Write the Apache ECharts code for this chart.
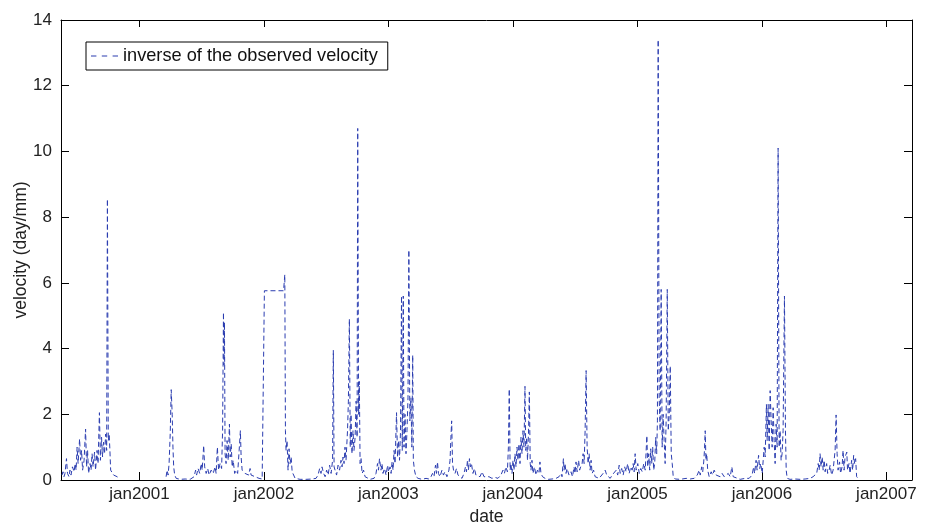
<!DOCTYPE html>
<html>
<head>
<meta charset="utf-8">
<script src="https://cdn.jsdelivr.net/npm/echarts@6/dist/echarts.min.js"></script>
<style>
html,body{margin:0;padding:0;background:#fff;}
#chart{width:931px;height:523px;}
</style>
</head>
<body>
<div id="chart"></div>
<script>
// x values are decimal years, y values are velocity (day/mm)
const obs2000 = [[2000.379,0.15],[2000.387,0.25],[2000.395,0.1],[2000.403,0.2],[2000.415,0.65],[2000.423,0.2],[2000.435,0.1],[2000.443,0.3],[2000.451,0.15],[2000.463,0.4],[2000.476,0.25],[2000.484,0.5],[2000.492,0.3],[2000.500,1.0],[2000.508,0.5],[2000.520,1.25],[2000.528,0.6],[2000.536,0.9],[2000.544,0.3],[2000.556,0.6],[2000.568,1.55],[2000.576,0.4],[2000.584,0.9],[2000.592,0.2],[2000.604,0.5],[2000.612,0.3],[2000.620,0.8],[2000.628,0.4],[2000.640,0.85],[2000.648,0.3],[2000.660,0.9],[2000.668,0.5],[2000.679,2.05],[2000.687,0.6],[2000.696,1.3],[2000.704,0.7],[2000.712,1.15],[2000.720,0.8],[2000.729,1.4],[2000.737,0.9],[2000.743,8.55],[2000.750,1.2],[2000.757,1.4],[2000.763,0.9],[2000.769,0.3],[2000.781,0.25],[2000.793,0.15],[2000.805,0.2],[2000.821,0.1],[2000.837,0.05],[2000.95,null]];
const obs2001 = [[2001.214,0.1],[2001.222,0.3],[2001.230,0.15],[2001.238,0.5],[2001.247,1.4],[2001.255,2.75],[2001.263,2.0],[2001.269,1.0],[2001.275,0.4],[2001.283,0.15],[2001.295,0.05],[2001.327,0.02],[2001.367,0.03],[2001.407,0.02],[2001.439,0.1],[2001.451,0.3],[2001.459,0.15],[2001.471,0.35],[2001.484,0.2],[2001.496,0.5],[2001.504,0.3],[2001.516,1.05],[2001.524,0.4],[2001.536,0.2],[2001.548,0.35],[2001.560,0.15],[2001.576,0.3],[2001.592,0.2],[2001.608,0.4],[2001.616,0.2],[2001.626,1.0],[2001.636,0.3],[2001.648,0.5],[2001.660,0.35],[2001.668,1.5],[2001.675,5.1],[2001.679,3.5],[2001.683,4.8],[2001.688,0.8],[2001.696,0.5],[2001.704,1.2],[2001.713,0.6],[2001.723,1.7],[2001.729,0.7],[2001.737,1.1],[2001.745,0.4],[2001.753,0.6],[2001.765,0.2],[2001.777,0.3],[2001.789,0.2],[2001.801,0.9],[2001.811,1.5],[2001.817,0.7],[2001.825,0.3],[2001.837,0.25],[2001.849,0.2],[2001.865,0.25],[2001.877,0.15],[2001.889,0.35],[2001.897,0.15],[2001.913,0.2],[2001.929,0.1],[2001.945,0.15],[2001.961,0.05],[2001.986,0.03]];
const obs2002 = [[2002.000,0.03],[2002.004,5.76],[2002.158,5.76],[2002.168,6.25],[2002.173,1.5],[2002.178,0.9],[2002.186,1.2],[2002.194,0.3],[2002.202,0.95],[2002.210,0.5],[2002.219,0.7],[2002.227,0.25],[2002.239,0.3],[2002.251,0.05],[2002.291,0.02],[2002.339,0.02],[2002.387,0.03],[2002.419,0.05],[2002.435,0.15],[2002.448,0.35],[2002.459,0.2],[2002.467,0.4],[2002.480,0.2],[2002.492,0.1],[2002.504,0.3],[2002.516,0.15],[2002.528,0.45],[2002.540,0.2],[2002.552,0.6],[2002.558,3.95],[2002.564,0.4],[2002.572,0.3],[2002.584,0.15],[2002.596,0.45],[2002.608,0.3],[2002.620,0.6],[2002.628,0.4],[2002.636,0.7],[2002.644,0.5],[2002.652,1.0],[2002.660,0.6],[2002.672,1.5],[2002.679,2.4],[2002.687,4.9],[2002.694,1.0],[2002.700,2.0],[2002.708,0.8],[2002.716,1.5],[2002.724,0.9],[2002.733,1.3],[2002.741,2.4],[2002.749,1.3],[2002.754,10.7],[2002.761,2.0],[2002.767,3.0],[2002.773,0.5],[2002.781,0.65],[2002.789,0.2],[2002.801,0.3],[2002.813,0.1],[2002.829,0.05],[2002.853,0.02],[2002.885,0.05],[2002.901,0.2],[2002.913,0.5],[2002.921,0.3],[2002.929,0.65],[2002.941,0.3],[2002.949,0.5],[2002.957,0.2],[2002.969,0.35],[2002.982,0.15],[2002.994,0.45]];
const obs2003 = [[2003.002,0.25],[2003.014,0.4],[2003.022,0.2],[2003.030,0.55],[2003.038,0.3],[2003.046,0.9],[2003.054,0.5],[2003.066,2.05],[2003.074,0.7],[2003.082,1.2],[2003.090,0.6],[2003.098,1.5],[2003.106,5.6],[2003.112,0.9],[2003.120,5.6],[2003.126,1.0],[2003.134,2.0],[2003.142,0.8],[2003.150,1.5],[2003.158,2.5],[2003.165,7.0],[2003.173,1.8],[2003.182,2.5],[2003.189,1.0],[2003.196,3.8],[2003.201,0.6],[2003.210,0.3],[2003.222,0.1],[2003.239,0.05],[2003.271,0.02],[2003.303,0.05],[2003.327,0.03],[2003.343,0.1],[2003.355,0.2],[2003.367,0.1],[2003.379,0.45],[2003.387,0.2],[2003.395,0.55],[2003.403,0.2],[2003.415,0.1],[2003.431,0.3],[2003.443,0.15],[2003.455,0.25],[2003.471,0.1],[2003.487,0.3],[2003.496,0.6],[2003.502,1.2],[2003.509,1.8],[2003.516,0.5],[2003.524,0.3],[2003.536,0.2],[2003.548,0.35],[2003.560,0.15],[2003.576,0.1],[2003.592,0.05],[2003.608,0.2],[2003.620,0.4],[2003.628,0.25],[2003.636,0.6],[2003.644,0.3],[2003.652,0.65],[2003.660,0.4],[2003.668,0.5],[2003.680,0.2],[2003.692,0.35],[2003.704,0.15],[2003.720,0.2],[2003.737,0.1],[2003.753,0.25],[2003.769,0.1],[2003.785,0.05],[2003.809,0.1],[2003.833,0.05],[2003.857,0.08],[2003.881,0.05],[2003.905,0.15],[2003.921,0.3],[2003.933,0.2],[2003.945,0.4],[2003.957,0.25],[2003.965,1.0],[2003.972,2.77],[2003.979,0.3],[2003.985,0.5],[2003.994,0.2]];
const obs2004 = [[2004.002,0.6],[2004.010,0.3],[2004.018,0.8],[2004.026,0.4],[2004.034,1.0],[2004.042,0.6],[2004.050,1.1],[2004.058,0.5],[2004.066,1.3],[2004.074,0.8],[2004.082,1.5],[2004.090,1.0],[2004.098,2.85],[2004.104,0.9],[2004.112,1.3],[2004.118,0.6],[2004.126,1.4],[2004.133,2.68],[2004.140,0.5],[2004.146,0.3],[2004.154,0.6],[2004.162,0.2],[2004.174,0.4],[2004.186,0.15],[2004.198,0.3],[2004.210,0.2],[2004.218,0.55],[2004.226,0.2],[2004.239,0.1],[2004.259,0.05],[2004.283,0.02],[2004.315,0.03],[2004.347,0.05],[2004.371,0.1],[2004.387,0.2],[2004.395,0.1],[2004.406,0.65],[2004.411,0.3],[2004.419,0.5],[2004.427,0.2],[2004.435,0.35],[2004.451,0.15],[2004.467,0.25],[2004.479,0.1],[2004.491,0.4],[2004.499,0.2],[2004.507,0.55],[2004.516,0.25],[2004.528,0.6],[2004.536,0.3],[2004.544,0.4],[2004.556,0.5],[2004.564,0.8],[2004.572,0.5],[2004.580,1.5],[2004.588,3.33],[2004.596,1.0],[2004.604,0.5],[2004.612,0.8],[2004.620,0.3],[2004.628,0.6],[2004.636,0.2],[2004.648,0.3],[2004.660,0.1],[2004.676,0.15],[2004.692,0.05],[2004.708,0.1],[2004.724,0.2],[2004.741,0.3],[2004.753,0.15],[2004.765,0.1],[2004.781,0.05],[2004.797,0.15],[2004.813,0.1],[2004.829,0.3],[2004.841,0.15],[2004.853,0.45],[2004.861,0.2],[2004.873,0.35],[2004.885,0.15],[2004.897,0.4],[2004.909,0.25],[2004.921,0.5],[2004.933,0.2],[2004.945,0.4],[2004.957,0.3],[2004.965,0.5],[2004.973,0.25],[2004.981,0.8],[2004.989,0.3]];
const obs2005 = [[2005.002,0.5],[2005.014,0.2],[2005.026,0.35],[2005.038,0.25],[2005.050,0.5],[2005.062,0.3],[2005.075,1.35],[2005.082,0.4],[2005.090,0.8],[2005.098,0.3],[2005.106,0.95],[2005.114,0.5],[2005.122,1.0],[2005.130,0.3],[2005.138,0.5],[2005.146,1.3],[2005.154,0.8],[2005.160,1.8],[2005.166,13.4],[2005.174,2.5],[2005.182,1.5],[2005.190,5.8],[2005.198,1.0],[2005.206,2.0],[2005.214,1.2],[2005.222,0.5],[2005.230,1.8],[2005.239,5.8],[2005.247,1.5],[2005.255,2.0],[2005.263,3.47],[2005.271,0.8],[2005.279,0.5],[2005.287,0.1],[2005.303,0.03],[2005.343,0.02],[2005.391,0.05],[2005.423,0.03],[2005.455,0.05],[2005.480,0.15],[2005.496,0.3],[2005.504,0.15],[2005.516,0.4],[2005.524,0.25],[2005.532,0.55],[2005.538,0.9],[2005.544,1.5],[2005.550,0.6],[2005.556,0.8],[2005.564,0.3],[2005.576,0.1],[2005.592,0.25],[2005.604,0.15],[2005.616,0.3],[2005.632,0.15],[2005.648,0.2],[2005.664,0.1],[2005.680,0.2],[2005.696,0.1],[2005.712,0.15],[2005.729,0.2],[2005.745,0.1],[2005.758,0.4],[2005.769,0.1],[2005.785,0.05],[2005.825,0.02],[2005.865,0.05],[2005.897,0.05],[2005.921,0.15],[2005.933,0.4],[2005.941,0.2],[2005.953,0.6],[2005.961,0.3],[2005.973,0.75],[2005.982,0.35],[2005.990,0.5]];
const obs2006 = [[2006.002,0.2],[2006.010,0.6],[2006.018,1.0],[2006.026,0.7],[2006.036,2.3],[2006.042,1.2],[2006.050,2.3],[2006.058,0.9],[2006.066,2.72],[2006.074,1.8],[2006.082,1.0],[2006.090,2.2],[2006.098,1.2],[2006.106,0.5],[2006.114,1.7],[2006.122,1.0],[2006.130,10.1],[2006.138,1.0],[2006.146,1.5],[2006.154,0.6],[2006.162,0.8],[2006.170,1.5],[2006.181,5.6],[2006.189,1.5],[2006.195,0.3],[2006.203,0.05],[2006.226,0.02],[2006.267,0.03],[2006.307,0.02],[2006.347,0.03],[2006.387,0.05],[2006.411,0.1],[2006.427,0.05],[2006.440,0.2],[2006.452,0.5],[2006.460,0.3],[2006.467,0.8],[2006.475,0.4],[2006.484,0.7],[2006.492,0.3],[2006.500,0.6],[2006.508,0.25],[2006.520,0.5],[2006.528,0.2],[2006.540,0.3],[2006.548,0.45],[2006.560,0.15],[2006.572,0.3],[2006.580,0.6],[2006.588,0.9],[2006.596,1.98],[2006.604,0.8],[2006.612,0.3],[2006.624,0.55],[2006.632,0.2],[2006.644,0.4],[2006.652,0.9],[2006.660,0.3],[2006.668,0.7],[2006.682,0.85],[2006.688,0.3],[2006.700,0.5],[2006.708,0.2],[2006.721,0.6],[2006.729,0.3],[2006.737,0.75],[2006.745,0.5],[2006.753,0.65],[2006.761,0.1],[2006.773,0.05]];

const xStartYear = 2000.371;
const xEndYear = 2007.206;
const yTicks = [0, 2, 4, 6, 8, 10, 12, 14];
const seriesName = 'inverse of the observed velocity';
const xTitle = 'date';
const yTitle = 'velocity (day/mm)';

function toTime(y) {
  const yr = Math.floor(y);
  const a = new Date(yr, 0, 1).getTime();
  const b = new Date(yr + 1, 0, 1).getTime();
  return a + (y - yr) * (b - a);
}
const seriesData = [].concat(obs2000, obs2001, obs2002, obs2003, obs2004, obs2005, obs2006)
  .map(p => [toTime(p[0]), p[1]]);

const FONT = 'Liberation Sans, Arial, Helvetica, sans-serif';
const YEAR = 365 * 24 * 3600 * 1000;
const lineColor = '#2b3db0';

const chart = echarts.init(document.getElementById('chart'), null, {renderer: 'canvas'});
const xCommon = {
  type: 'time',
  min: toTime(xStartYear),
  max: toTime(xEndYear),
  minInterval: YEAR,
  maxInterval: YEAR + 24 * 3600 * 1000,
  splitLine: {show: false},
  axisLine: {show: true, onZero: false, lineStyle: {color: '#000', width: 1}},
};
const yCommon = {
  type: 'value',
  min: yTicks[0],
  max: yTicks[yTicks.length - 1],
  interval: yTicks[1] - yTicks[0],
  splitLine: {show: false},
  axisLine: {show: true, onZero: false, lineStyle: {color: '#000', width: 1}},
};
chart.setOption({
  animation: false,
  backgroundColor: '#fff',
  grid: {left: 61, right: 19, top: 20, bottom: 43, containLabel: false, outerBoundsMode: 'none'},
  legend: {
    show: true,
    left: 86, top: 42,
    orient: 'horizontal',
    backgroundColor: '#fff',
    borderColor: '#000',
    borderWidth: 1,
    borderRadius: 0,
    padding: [5, 10, 5, 5],
    itemWidth: 27,
    itemHeight: 1.2,
    icon: 'path://M0,0h5v1h-5z M10,0h5v1h-5z M20,0h5v1h-5z',
    itemStyle: {color: lineColor},
    textStyle: {fontFamily: FONT, fontSize: 18.2, color: '#111', lineHeight: 18},
    data: [seriesName]
  },
  xAxis: [
    Object.assign({}, xCommon, {
      position: 'bottom',
      name: xTitle,
      nameLocation: 'middle',
      nameGap: 27,
      nameTextStyle: {fontFamily: FONT, fontSize: 17.5, color: '#222'},
      axisTick: {show: true, inside: true, length: 8, lineStyle: {color: '#000'}},
      axisLabel: {
        show: true, margin: 6, showMinLabel: false, showMaxLabel: false,
        fontFamily: FONT, fontSize: 17, color: '#222',
        formatter: function (v) { return 'jan' + new Date(v).getFullYear(); }
      }
    }),
    Object.assign({}, xCommon, {
      position: 'top',
      axisTick: {show: true, inside: true, length: 7, lineStyle: {color: '#000'}},
      axisLabel: {show: false}
    })
  ],
  yAxis: [
    Object.assign({}, yCommon, {
      position: 'left',
      name: yTitle,
      nameLocation: 'middle',
      nameRotate: 90,
      nameGap: 31,
      nameMoveOverlap: false,
      nameTextStyle: {fontFamily: FONT, fontSize: 17.5, color: '#222'},
      axisTick: {show: true, inside: true, length: 8, lineStyle: {color: '#000'}},
      axisLabel: {show: true, margin: 9, fontFamily: FONT, fontSize: 17, color: '#222'}
    }),
    Object.assign({}, yCommon, {
      position: 'right',
      axisTick: {show: true, inside: true, length: 8, lineStyle: {color: '#000'}},
      axisLabel: {show: false}
    })
  ],
  series: [{
    name: seriesName,
    type: 'line',
    xAxisIndex: 0,
    yAxisIndex: 0,
    data: seriesData,
    showSymbol: false,
    symbol: 'none',
    connectNulls: false,
    clip: true,
    lineStyle: {color: lineColor, width: 1, type: [5, 3]},
    itemStyle: {color: lineColor}
  }]
});
</script>
</body>
</html>
